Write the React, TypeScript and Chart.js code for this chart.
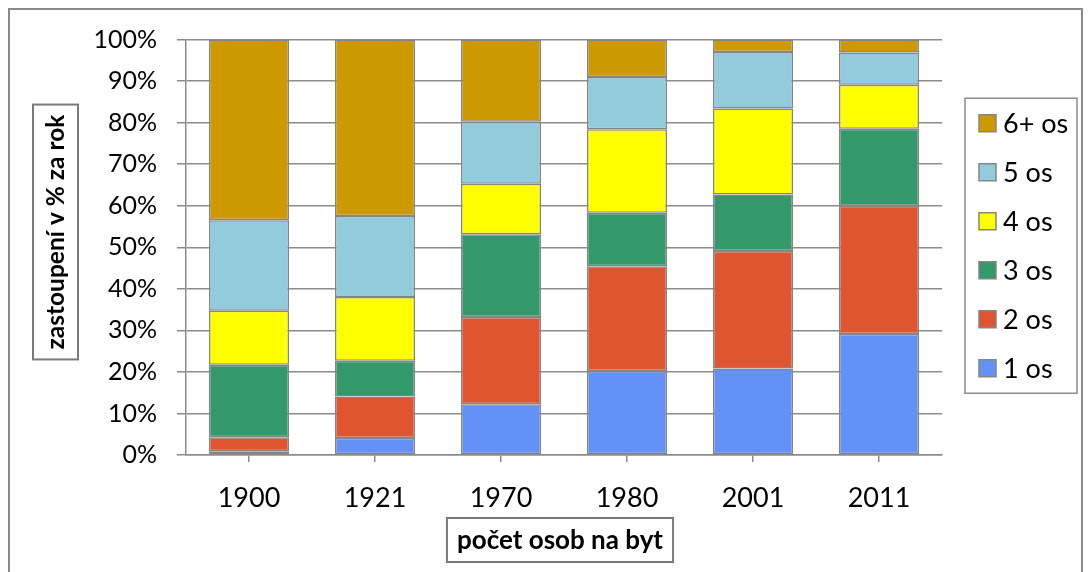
import React, { useEffect, useRef } from 'react';
import { Chart, registerables } from 'chart.js';

Chart.register(...registerables);

const years = ['1900', '1921', '1970', '1980', '2001', '2011'];
const seriesLabels = ['1 os', '2 os', '3 os', '4 os', '5 os', '6+ os'];
const seriesColors = ['#6391F5', '#DE5530', '#33996A', '#FFFF00', '#92CCDC', '#CC9900'];
const os1 = [0.9, 4.1, 12.2, 20.2, 20.8, 29.1];
const os2 = [3.4, 10.0, 21.0, 25.2, 28.3, 30.9];
const os3 = [17.4, 8.6, 19.9, 12.9, 13.6, 18.5];
const os4 = [13.0, 15.3, 12.2, 20.1, 20.7, 10.6];
const os5 = [21.8, 19.5, 14.9, 12.6, 13.6, 7.8];
const os6 = [43.5, 42.5, 19.8, 9.0, 3.0, 3.1];
const seriesValues = [os1, os2, os3, os4, os5, os6];
const yTickValues = [0, 10, 20, 30, 40, 50, 60, 70, 80, 90, 100];
const xTitle = 'počet osob na byt';
const yTitle = 'zastoupení v % za rok';

const FONT = 'Lato, "Open Sans", sans-serif';
const GRID = '#8c8c8c';

const decorPlugin = {
  id: 'decor',
  beforeDraw(chart: any) {
    const { ctx, width, height } = chart;
    ctx.save();
    ctx.fillStyle = '#ffffff';
    ctx.fillRect(0, 0, width, height);
    ctx.strokeStyle = '#8a8a8a';
    ctx.lineWidth = 2;
    ctx.beginPath();
    ctx.moveTo(1, height + 5);
    ctx.lineTo(1, 1);
    ctx.lineTo(width - 1, 1);
    ctx.lineTo(width - 1, height + 5);
    ctx.stroke();
    ctx.restore();
  },
  afterDraw(chart: any) {
    const { ctx, chartArea: ca } = chart;
    ctx.save();
    ctx.fillStyle = '#000';
    ctx.textAlign = 'center';
    ctx.textBaseline = 'middle';
    ctx.strokeStyle = '#7a7a7a';
    ctx.lineWidth = 2;

    // x title
    ctx.font = `bold 26px ${FONT}`;
    const xw = ctx.measureText(xTitle).width;
    const xcx = ca.left + 374;
    const xcy = ca.bottom + 85;
    ctx.strokeRect(xcx - xw / 2 - 10, xcy - 22, xw + 20, 44);
    ctx.fillText(xTitle, xcx, xcy + 1);

    // y title
    ctx.font = `bold 24.5px ${FONT}`;
    const yw = ctx.measureText(yTitle).width;
    const ycx = ca.left - 130.5;
    const ycy = ca.top + 192.5;
    ctx.save();
    ctx.translate(ycx, ycy);
    ctx.rotate(-Math.PI / 2);
    ctx.strokeRect(-yw / 2 - 10, -22.5, yw + 20, 45);
    ctx.fillText(yTitle, 0, 1);
    ctx.restore();

    // legend
    const lx = ca.right + 23;
    const lw = 112;
    const spacing = 49;
    const n = seriesLabels.length;
    const midY = (ca.top + ca.bottom) / 2 - 1.5;
    const firstY = midY - ((n - 1) * spacing) / 2;
    ctx.strokeStyle = GRID;
    ctx.lineWidth = 1.5;
    ctx.strokeRect(lx, firstY - 25, lw, (n - 1) * spacing + 50);
    ctx.font = `27px ${FONT}`;
    ctx.textAlign = 'left';
    for (let i = 0; i < n; i++) {
      const idx = n - 1 - i;
      const cy = firstY + i * spacing;
      ctx.fillStyle = seriesColors[idx];
      ctx.fillRect(lx + 14, cy - 8.5, 17, 17);
      ctx.strokeStyle = '#858585';
      ctx.lineWidth = 1.5;
      ctx.strokeRect(lx + 14, cy - 8.5, 17, 17);
      ctx.fillStyle = '#000';
      ctx.fillText(seriesLabels[idx], lx + 38, cy + 1);
    }
    ctx.restore();
  },
};

export default function App() {
  const ref = useRef<HTMLCanvasElement | null>(null);
  useEffect(() => {
    document.body.style.overflow = 'hidden';
    const canvas = ref.current;
    if (!canvas) return;
    const chart = new Chart(canvas, {
      type: 'bar',
      data: {
        labels: years,
        datasets: seriesValues.map((vals, i) => ({
          label: seriesLabels[i],
          data: vals,
          backgroundColor: seriesColors[i],
          borderColor: '#858585',
          borderWidth: 1.5,
          borderSkipped: false,
          categoryPercentage: 0.635,
          barPercentage: 1,
        })),
      },
      options: {
        responsive: false,
        animation: false,
        devicePixelRatio: 1,
        layout: { padding: { left: 0, right: 141, top: 31.5, bottom: 0 } },
        plugins: {
          legend: { display: false },
          tooltip: { enabled: false },
          title: { display: false },
        },
        scales: {
          x: {
            stacked: true,
            grid: {
              drawOnChartArea: false,
              drawTicks: true,
              tickLength: 7,
              offset: false,
              color: GRID,
              lineWidth: 1.5,
            },
            border: { display: true, color: GRID, width: 1.5 },
            ticks: {
              color: '#000',
              font: { family: FONT, size: 27 },
              padding: 20,
            },
            afterFit: (scale: any) => {
              scale.height = 117;
              scale.paddingLeft = 0;
              scale.paddingRight = 0;
            },
          },
          y: {
            stacked: true,
            min: 0,
            max: 100,
            afterBuildTicks: (scale: any) => {
              scale.ticks = yTickValues.map((v) => ({ value: v }));
            },
            grid: {
              color: GRID,
              lineWidth: 1.5,
              tickLength: 9,
              drawTicks: true,
            },
            border: { display: true, color: GRID, width: 1.5 },
            ticks: {
              color: '#000',
              font: { family: FONT, size: 25 },
              padding: 20,
              callback: (v: any) => `${v}%`,
            },
            afterFit: (scale: any) => {
              scale.width = 178;
              scale.paddingTop = 0;
              scale.paddingBottom = 0;
            },
          },
        },
      },
      plugins: [decorPlugin],
    });
    return () => chart.destroy();
  }, []);
  return (
    <div style={{ width: 1075, height: 564 }}>
      <canvas ref={ref} width={1075} height={564} style={{ display: 'block' }} />
    </div>
  );
}
